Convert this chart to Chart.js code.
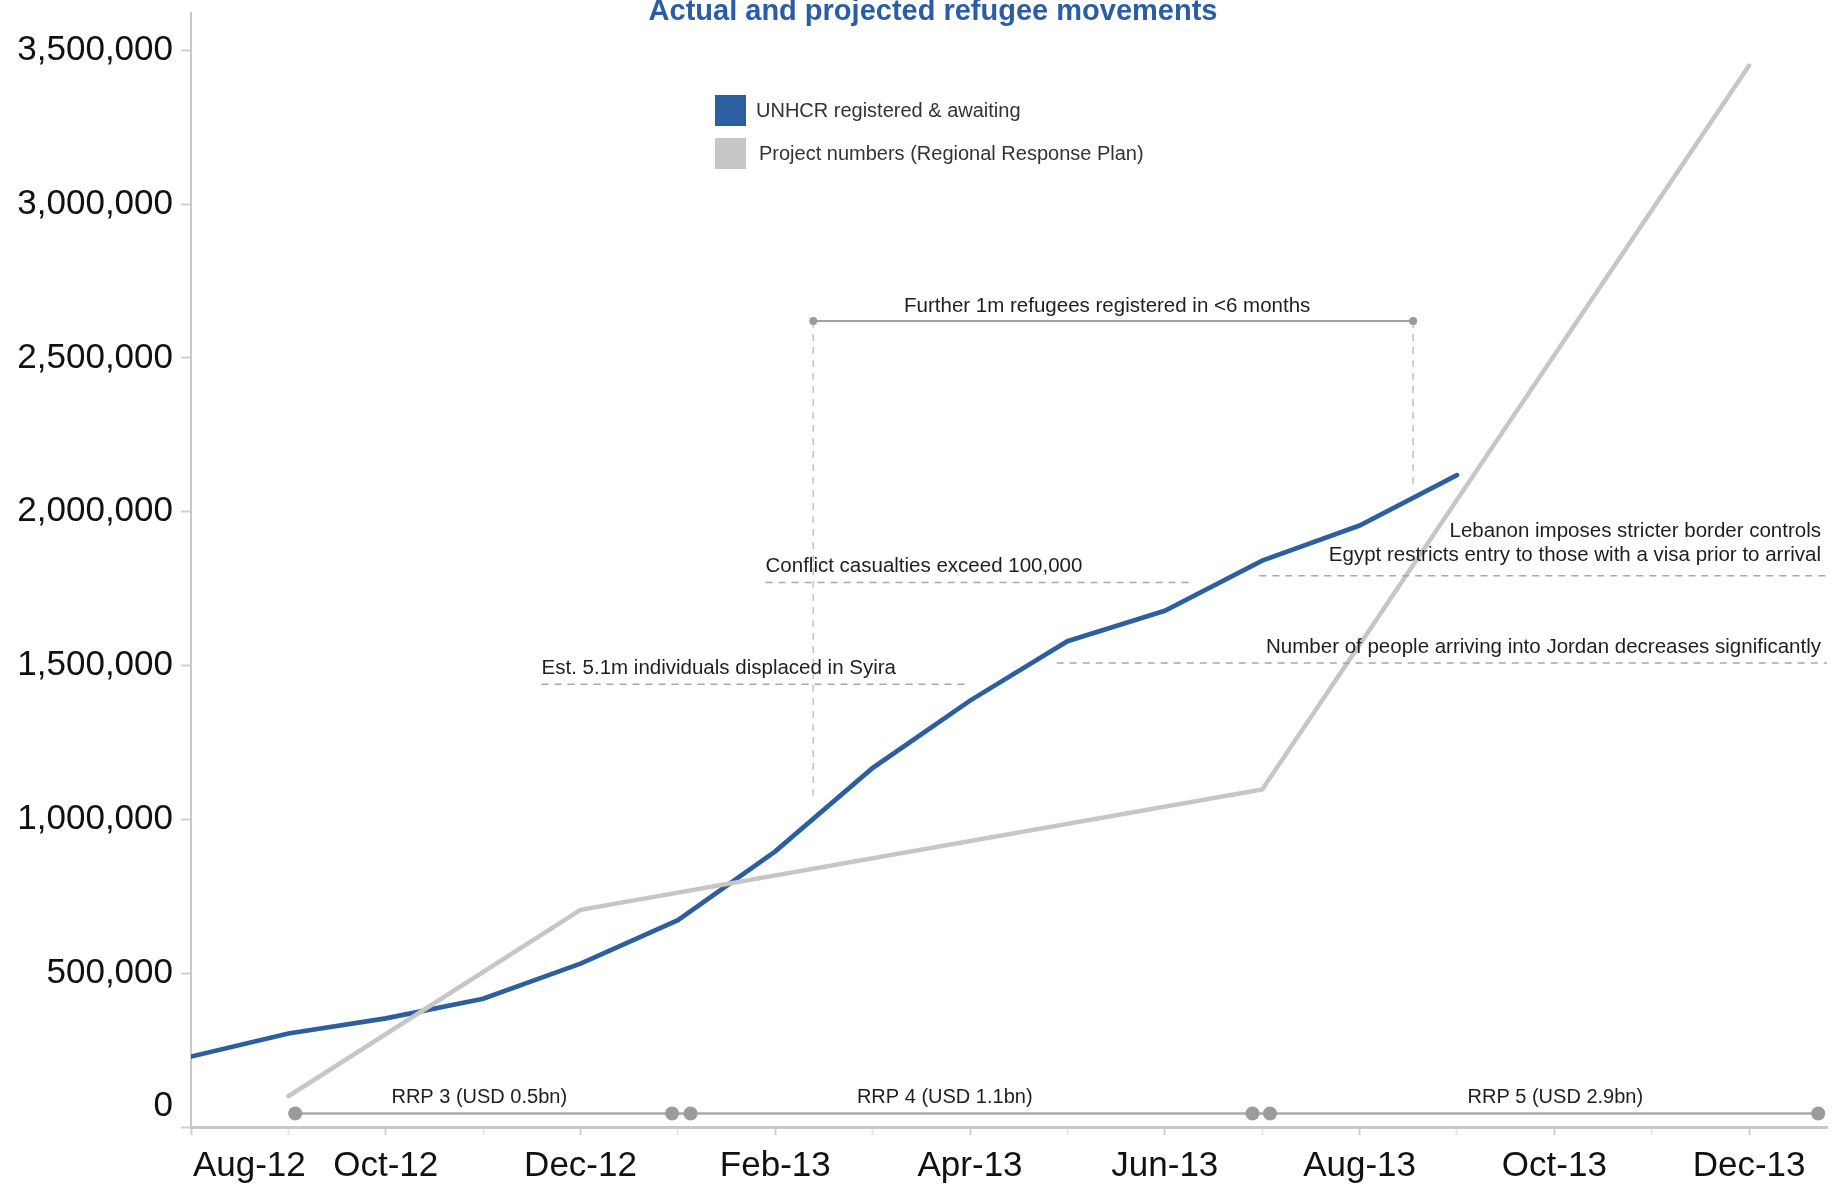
<!DOCTYPE html>
<html>
<head>
<meta charset="utf-8">
<title>Actual and projected refugee movements</title>
<script src="https://cdn.jsdelivr.net/npm/chart.js@4.4.0/dist/chart.umd.min.js"></script>
<style>
  html, body { margin: 0; padding: 0; background: #fff; }
</style>
</head>
<body>
<canvas id="refugees" width="1834" height="1187"></canvas>
<script>
// month index 0 = Aug-12
const monthLabels = ['Aug-12', 'Sep-12', 'Oct-12', 'Nov-12', 'Dec-12', 'Jan-13', 'Feb-13', 'Mar-13', 'Apr-13',
  'May-13', 'Jun-13', 'Jul-13', 'Aug-13', 'Sep-13', 'Oct-13', 'Nov-13', 'Dec-13'];

// UNHCR registered & awaiting registration
const unhcrMonths = [0, 1, 2, 3, 4, 5, 6, 7, 8, 9, 10, 11, 12, 13];
const unhcrValues = [229000, 304000, 353000, 417000, 531000, 672000, 896000, 1167000, 1386000,
  1579000, 1678000, 1841000, 1955000, 2119000];

// Regional Response Plan planning figures
const rrpMonths = [1, 4, 11, 16];
const rrpValues = [100000, 706000, 1097000, 3450000];

// RRP funding periods along the bottom
const planLabels = ['RRP 3 (USD 0.5bn)', 'RRP 4 (USD 1.1bn)', 'RRP 5 (USD 2.9bn)'];
const planStart = [1.07, 5.13, 11.08];
const planEnd = [4.94, 10.90, 16.71];
const planLabelAt = [2.96, 7.74, 14.01];
const planLevel = 44000;

// events marked with dashed lines
const eventLabels = [
  ['Est. 5.1m individuals displaced in Syira'],
  ['Conflict casualties exceed 100,000'],
  ['Lebanon imposes stricter border controls', 'Egypt restricts entry to those with a visa prior to arrival'],
  ['Number of people arriving into Jordan decreases significantly']
];
const eventStart = [3.60, 5.90, 10.97, 8.89];
const eventEnd = [7.96, 10.27, 16.8, 16.8];
const eventLevel = [1439000, 1770000, 1792000, 1508000];

// "further 1m" bracket
const spanLabel = 'Further 1m refugees registered in <6 months';
const spanStart = 6.39;
const spanEnd = 12.55;
const spanLevel = 2620000;
const spanDrops = [1057000, 2070000];

const yTicks = [0, 500000, 1000000, 1500000, 2000000, 2500000, 3000000, 3500000];
const xMax = 16.8;
const yMax = 3621000;

const FONT = '"Liberation Sans", Arial, Helvetica, sans-serif';
const BLUE = '#2c5f9f';
const LIGHT = '#c6c6c6';

const pts = (xs, ys) => xs.map((v, i) => ({ x: v, y: Array.isArray(ys) ? ys[i] : ys }));

const datasets = [];

// bottom plan timeline: one line with dots at each period's ends
const planXs = [];
planStart.forEach((s, i) => { planXs.push(s, planEnd[i]); });
datasets.push({
  data: pts(planXs, planLevel),
  borderColor: '#a9a9a9', borderWidth: 2.5,
  pointRadius: 7, pointBackgroundColor: '#9b9b9b', pointBorderWidth: 0, pointHoverRadius: 7
});

// dashed event lines
eventStart.forEach((s, i) => {
  datasets.push({
    data: pts([s, eventEnd[i]], eventLevel[i]),
    borderColor: '#a8a8a8', borderWidth: 1.6, borderDash: [7, 6], pointRadius: 0
  });
});

// bracket and its drop lines
datasets.push({
  data: pts([spanStart, spanEnd], spanLevel),
  borderColor: '#a0a0a0', borderWidth: 2,
  pointRadius: 4, pointBackgroundColor: '#9a9a9a', pointBorderWidth: 0
});
[spanStart, spanEnd].forEach((s, i) => {
  datasets.push({
    data: [{ x: s, y: spanLevel }, { x: s, y: spanDrops[i] }],
    borderColor: '#c4c4c4', borderWidth: 1.6, borderDash: [7, 6], pointRadius: 0
  });
});

datasets.push({
  label: 'Project numbers (Regional Response Plan)',
  data: pts(rrpMonths, rrpValues),
  borderColor: LIGHT, borderWidth: 4.5, pointRadius: 0, borderCapStyle: 'round'
});
datasets.push({
  label: 'UNHCR registered & awaiting',
  data: pts(unhcrMonths, unhcrValues),
  borderColor: BLUE, borderWidth: 4.7, pointRadius: 0, borderCapStyle: 'round'
});

const notes = {
  id: 'notes',
  afterDatasetsDraw(chart) {
    const { ctx, chartArea } = chart;
    const x = chart.scales.x, y = chart.scales.y;
    ctx.save();
    ctx.fillStyle = '#1e1e1e';
    ctx.font = '20.5px ' + FONT;
    ctx.textBaseline = 'alphabetic';

    eventLabels.forEach((lines, i) => {
      const ly = y.getPixelForValue(eventLevel[i]);
      const toEdge = eventEnd[i] >= xMax;
      const gap = lines.length > 1 ? 15 : 10;
      ctx.textAlign = toEdge ? 'right' : 'left';
      const lx = toEdge ? chartArea.right - 6 : x.getPixelForValue(eventStart[i]);
      lines.slice().reverse().forEach((t, k) => ctx.fillText(t, lx, ly - gap - k * 24));
    });

    ctx.textAlign = 'center';
    ctx.fillText(spanLabel, x.getPixelForValue((spanStart + spanEnd) / 2) - 6, y.getPixelForValue(spanLevel) - 9);

    ctx.font = '20px ' + FONT;
    planLabels.forEach((t, i) => {
      ctx.fillText(t, x.getPixelForValue(planLabelAt[i]), y.getPixelForValue(planLevel) - 10);
    });
    ctx.restore();
  },
  afterDraw(chart) {
    const { ctx } = chart;
    ctx.save();
    ctx.fillStyle = '#2a5da6';
    ctx.font = 'bold 29px ' + FONT;
    ctx.textAlign = 'center';
    ctx.fillText('Actual and projected refugee movements', 933, 20);

    // legend
    const items = chart.data.datasets.filter(d => d.label).reverse();
    ctx.font = '20px ' + FONT;
    ctx.textAlign = 'left';
    ctx.textBaseline = 'middle';
    items.forEach((d, i) => {
      const top = 95 + i * 43;
      ctx.fillStyle = d.borderColor;
      ctx.fillRect(715, top, 31, 31);
      ctx.fillStyle = '#333';
      ctx.fillText(d.label, 756 + i * 3, top + 16);
    });
    ctx.restore();
  }
};

new Chart(document.getElementById('refugees'), {
  type: 'line',
  data: { datasets },
  options: {
    responsive: false,
    animation: false,
    events: [],
    layout: { padding: { top: 13, right: 7, left: 0, bottom: 0 } },
    plugins: { legend: { display: false }, tooltip: { enabled: false } },
    scales: {
      x: {
        type: 'linear', min: 0, max: xMax,
        afterFit: s => { s.height = 60; s.paddingLeft = 0; s.paddingRight = 0; },
        border: { color: '#c8c8c8', width: 3 },
        grid: {
          drawOnChartArea: false, tickLength: 8,
          tickColor: c => (c.tick && c.tick.value % 2 ? '#e6e6e6' : '#cfcfcf'),
          tickWidth: 2
        },
        ticks: {
          stepSize: 1, autoSkip: false, maxRotation: 0, includeBounds: false, padding: 10,
          color: '#111', font: { family: FONT, size: 35 },
          callback: v => {
            if (v % 2) return '';
            // first label sits right of the axis
            return v === 0 ? '\u00a0'.repeat(12) + monthLabels[0] : monthLabels[v];
          }
        }
      },
      y: {
        min: 0, max: yMax,
        // fixed gutter; no extra room for the top label
        afterFit: s => { s.width = 191; s.paddingTop = 0; s.paddingBottom = 0; },
        afterBuildTicks: s => { s.ticks = yTicks.map(v => ({ value: v })); },
        border: { color: '#c8c8c8', width: 2 },
        grid: { drawOnChartArea: false, tickLength: 10, tickColor: '#cfcfcf', tickWidth: 2 },
        ticks: {
          padding: 8, color: '#111', font: { family: FONT, size: 35 },
          callback: v => (v === 0 ? ['0', ''] : v.toLocaleString('en-US'))
        }
      }
    }
  },
  plugins: [notes]
});
</script>
</body>
</html>
